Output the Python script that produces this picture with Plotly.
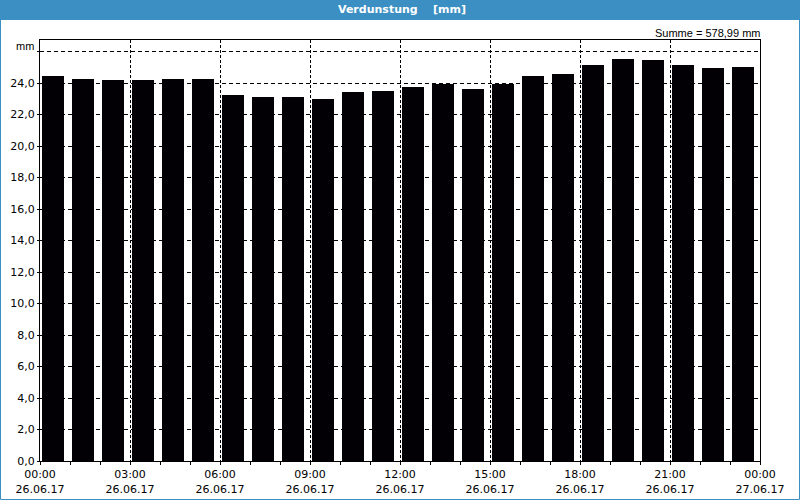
import plotly.graph_objects as go

# ---- data ----
hours = list(range(24))
values = [24.44, 24.25, 24.19, 24.19, 24.25, 24.25,
          23.24, 23.11, 23.11, 22.98, 23.43, 23.49,
          23.75, 23.96, 23.62, 23.96, 24.44, 24.57,
          25.14, 25.52, 25.46, 25.14, 24.95, 25.02]
tick_hours = [0, 3, 6, 9, 12, 15, 18, 21, 24]
tick_times = ["00:00", "03:00", "06:00", "09:00", "12:00", "15:00", "18:00", "21:00", "00:00"]
tick_dates = ["26.06.17"] * 8 + ["27.06.17"]
y_ticks = [0, 2, 4, 6, 8, 10, 12, 14, 16, 18, 20, 22, 24, 26]
y_labels = ["0,0", "2,0", "4,0", "6,0", "8,0", "10,0", "12,0", "14,0", "16,0",
            "18,0", "20,0", "22,0", "24,0", ""]
title_text = "Verdunstung\u00a0\u00a0\u00a0\u00a0[mm]"
sum_text = "Summe = 578,99 mm"

W, H = 800, 500
ML, MR, MT, MB = 40, 40, 40, 39
PW, PH = W - ML - MR, H - MT - MB
FONT = "DejaVu Sans"
FONT2 = "Liberation Sans"
BLUE = "#3b8fc3"


def px(x):
    return (x - ML) / PW


def py(y):
    return (H - MB - y) / PH


fig = go.Figure()
fig.add_trace(go.Bar(
    x=hours, y=values, offset=0.067, width=0.733,
    marker=dict(color="#030005", line=dict(width=0)),
    hoverinfo="skip", showlegend=False,
))

fig.update_layout(
    width=W, height=H,
    margin=dict(l=ML, r=MR, t=MT, b=MB, pad=0, autoexpand=False),
    paper_bgcolor="white", plot_bgcolor="white",
    font=dict(family=FONT, size=11, color="#000000"),
    bargap=0,
    xaxis=dict(
        range=[0, 24], tickmode="array", tickvals=tick_hours,
        ticktext=[f"{t}<br>{d}" for t, d in zip(tick_times, tick_dates)],
        showgrid=True, gridcolor="#000000", gridwidth=1, griddash="3px,2px",
        showline=True, linecolor="#000000", linewidth=1, mirror=True,
        ticks="outside", ticklen=3, tickcolor="#000000",
        minor=dict(tickvals=hours, ticks="outside", ticklen=3, tickcolor="#000000", showgrid=False),
        zeroline=False, fixedrange=True, automargin=False,
    ),
    yaxis=dict(
        range=[0, (H - MB - MT) / 15.75], tickmode="array", tickvals=y_ticks, ticktext=y_labels,
        showgrid=True, gridcolor="#000000", gridwidth=1, griddash="4px,3px",
        showline=True, linecolor="#000000", linewidth=1, mirror=True,
        ticks="outside", ticklen=2, tickcolor="#000000",
        zeroline=False, fixedrange=True, automargin=False,
    ),
    shapes=[
        dict(type="rect", xref="paper", yref="paper", x0=px(0), x1=px(W), y0=py(20), y1=py(0),
             fillcolor=BLUE, line=dict(width=0), layer="above"),
        dict(type="rect", xref="paper", yref="paper", x0=px(0.5), x1=px(W - 0.5), y0=py(H - 0.5), y1=py(0.5),
             fillcolor="rgba(0,0,0,0)", line=dict(width=1, color=BLUE), layer="above"),
    ],
    annotations=[
        dict(text="<b>" + title_text + "</b>", xref="paper", yref="paper", x=px(W / 2 + 2), y=py(10),
             xanchor="center", yanchor="middle", showarrow=False,
             font=dict(family=FONT, size=11, color="white")),
        dict(text=sum_text, xref="paper", yref="paper", x=px(762), y=py(33),
             xanchor="right", yanchor="middle", showarrow=False,
             font=dict(family=FONT2, size=11, color="black")),
        dict(text="mm", xref="paper", yref="paper", x=px(36), y=py(46),
             xanchor="right", yanchor="middle", showarrow=False,
             font=dict(family=FONT2, size=11, color="black")),
    ],
)

fig.write_html("out.html")
